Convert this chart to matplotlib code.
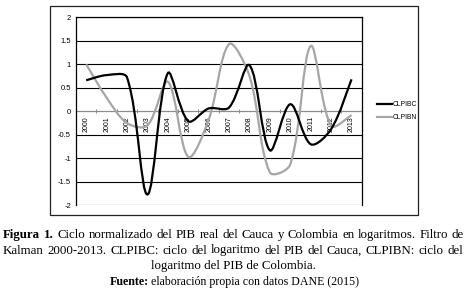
import numpy as np
import matplotlib
matplotlib.use('Agg')
import matplotlib.pyplot as plt
from matplotlib.path import Path
from matplotlib.patches import PathPatch, Rectangle
from matplotlib.lines import Line2D

years = [str(y) for y in range(2000, 2014)]
clpibc = [0.66, 0.77, 0.72, -1.77, 0.81, -0.21, 0.06, 0.08, 0.98, -0.83, 0.15, -0.70, -0.38, 0.68]
clpibn = [1.00, 0.29, -0.25, -0.30, 0.63, -0.97, -0.18, 1.43, 0.75, -1.30, -1.13, 1.39, -0.31, -0.08]
yticks = [2, 1.5, 1, 0.5, 0, -0.5, -1, -1.5, -2]
ytick_labels = ['2', '1.5', '1', '0.5', '0', '-0.5', '-1', '-1.5', '-2']


# smoothed line like excel: bezier through the points, control arms
# weighted by the length of the neighbouring segments (on screen scale)
def smooth_path(x, y, sx=20.4, sy=47.0, k=1 / 3):
    pts = np.column_stack([x, y]).astype(float)
    sc = np.array([sx, sy])
    n = len(pts)
    c_in = pts.copy()
    c_out = pts.copy()
    for i in range(1, n - 1):
        d0 = np.linalg.norm((pts[i] - pts[i - 1]) * sc)
        d1 = np.linalg.norm((pts[i + 1] - pts[i]) * sc)
        tan = pts[i + 1] - pts[i - 1]
        c_out[i] = pts[i] + tan * d1 / (d0 + d1) * k
        c_in[i] = pts[i] - tan * d0 / (d0 + d1) * k
    c_out[0] = pts[0] + (pts[1] - pts[0]) * k / 2
    c_in[-1] = pts[-1] - (pts[-1] - pts[-2]) * k / 2
    verts = [pts[0]]
    codes = [Path.MOVETO]
    for i in range(n - 1):
        verts += [c_out[i], c_in[i + 1], pts[i + 1]]
        codes += [Path.CURVE4] * 3
    return Path(verts, codes)


W, H = 469, 298
fig = plt.figure(figsize=(W / 100, H / 100), dpi=100)
fig.patch.set_facecolor('white')

# outer chart box
fig.add_artist(Rectangle((50 / W, 1 - 215 / H), 368 / W, 209 / H, transform=fig.transFigure,
                         fill=False, edgecolor='#222222', linewidth=0.9))

ax = fig.add_axes([76 / W, 1 - 205.3 / H, (361.7 - 76) / W, (205.3 - 17.3) / H])
x = np.arange(len(years))
ax.set_xlim(-0.5, len(years) - 0.5)
ax.set_ylim(-2, 2)

for v in yticks:
    if v != 0:
        ax.axhline(v, color='black', linewidth=0.8, zorder=1)

ax.add_patch(PathPatch(smooth_path(x, clpibn), fill=False, edgecolor='#a6a6a6', linewidth=1.6, zorder=3))
ax.add_patch(PathPatch(smooth_path(x, clpibc), fill=False, edgecolor='black', linewidth=1.6, zorder=4))

for s in ['top', 'left', 'right']:
    ax.spines[s].set_linewidth(0.9)
ax.spines['bottom'].set_position(('data', 0))
ax.spines['bottom'].set_color('#8c8c8c')
ax.spines['bottom'].set_linewidth(0.9)
ax.spines['bottom'].set_zorder(2)

ax.set_xticks(np.arange(-0.5, len(years), 1.0))
ax.set_xticklabels([])
ax.tick_params(axis='x', length=2.5, width=0.7, color='#8c8c8c', direction='inout')
ax.set_yticks(yticks)
ax.set_yticklabels(ytick_labels, fontsize=5.5, family='Liberation Sans')
ax.tick_params(axis='y', length=0, pad=3.5)

for i, yr in enumerate(years):
    ax.annotate(yr, (i, 0), xytext=(0, -3.5), textcoords='offset points', rotation=90,
                ha='center', va='top', fontsize=5, family='Liberation Sans', zorder=2)

handles = [Line2D([], [], color='black', linewidth=1.6),
           Line2D([], [], color='#a6a6a6', linewidth=1.6)]
fig.legend(handles, ['CLPIBC', 'CLPIBN'], loc='center left', bbox_to_anchor=(371 / W, 1 - 111 / H),
           frameon=False, handlelength=2.2, handletextpad=0.1,
           labelspacing=0.9, prop={'family': 'Liberation Sans', 'size': 4.9})

# caption
fig.canvas.draw()
rend = fig.canvas.get_renderer()
fs = 9.3


def width_of(t):
    return t.get_window_extent(rend).width


def justify(words, ybase, x0, x1, nbold=0):
    txts = [fig.text(0, 1 - ybase / H, w, fontsize=fs, family='Liberation Serif',
                     weight='bold' if i < nbold else 'normal', va='baseline', ha='left')
            for i, w in enumerate(words)]
    widths = [width_of(t) for t in txts]
    gap = (x1 - x0 - sum(widths)) / (len(widths) - 1)
    xp = x0
    for t, w in zip(txts, widths):
        t.set_x(xp / W)
        xp += w + gap


def centred(bold, rest, ybase, xc, size):
    parts = []
    if bold:
        parts.append(fig.text(0, 1 - ybase / H, bold, fontsize=size, family='Liberation Serif',
                              weight='bold', va='baseline', ha='left'))
    parts.append(fig.text(0, 1 - ybase / H, rest, fontsize=size, family='Liberation Serif',
                          va='baseline', ha='left'))
    widths = [width_of(t) for t in parts]
    xp = xc - sum(widths) / 2
    for t, w in zip(parts, widths):
        t.set_x(xp / W)
        xp += w


justify('Figura 1. Ciclo normalizado del PIB real del Cauca y Colombia en logaritmos. Filtro de'.split(' '),
        237.7, 3, 464, nbold=2)
justify('Kalman 2000-2013. CLPIBC: ciclo del logaritmo del PIB del Cauca, CLPIBN: ciclo del'.split(' '),
        253.5, 3, 463)
centred('', 'logaritmo del PIB de Colombia.', 269.3, 233, fs)
centred('Fuente:', ' elaboración propia con datos DANE (2015)', 284.8, 234.5, 8.6)

fig.savefig('out.png', dpi=100)
